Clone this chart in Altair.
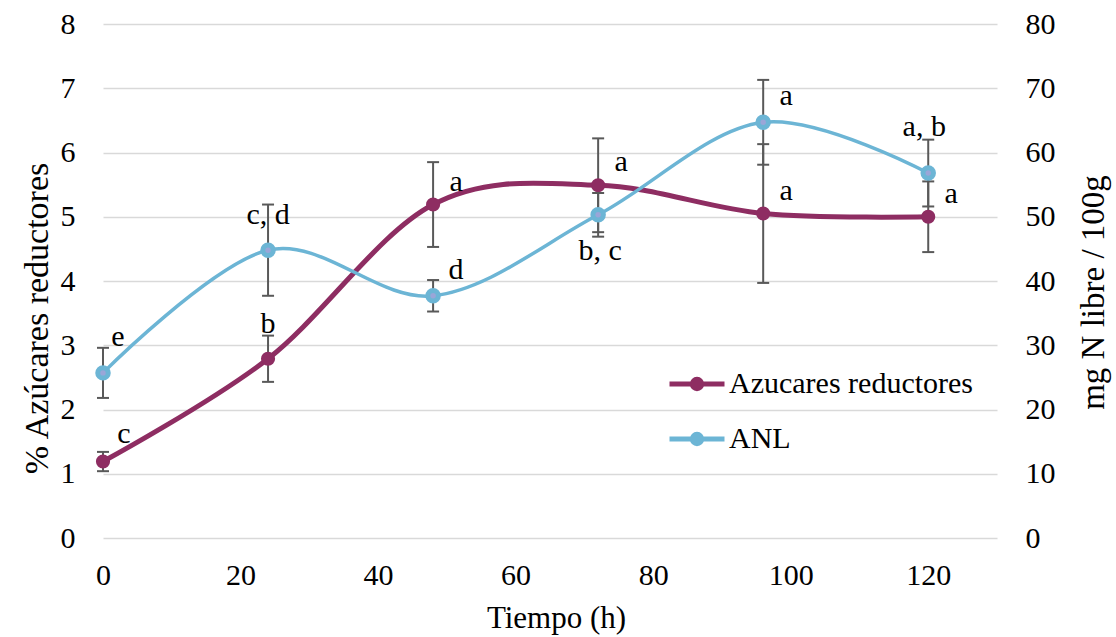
import altair as alt
import pandas as pd

# ---- data ----
tiempo = [0, 24, 48, 72, 96, 120]
azucares = [1.19, 2.79, 5.19, 5.49, 5.05, 5.00]
azucares_err = [0.15, 0.36, 0.66, 0.73, 1.08, 0.55]
anl = [25.7, 44.8, 37.7, 50.3, 64.7, 56.8]
anl_err = [3.9, 7.1, 2.45, 3.4, 6.6, 5.2]
azucares_letras = ["c", "b", "a", "a", "a", "a"]
anl_letras = ["e", "c, d", "d", "b, c", "a", "a, b"]
azucares_pos = ["arriba-der", "arriba", "der", "der", "der", "der"]
anl_pos = ["arriba-der", "arriba", "der", "abajo", "der", "alto"]
series = ["Azucares reductores", "ANL"]
x_ticks = [0, 20, 40, 60, 80, 100, 120]
left_ticks = [0, 1, 2, 3, 4, 5, 6, 7, 8]
right_ticks = [0, 10, 20, 30, 40, 50, 60, 70, 80]

FONT = "Liberation Serif"
FS = 30
MAROON = "#8e2d62"
BLUE = "#6cb5d5"
LAV = "#9aa6d8"
ERR = "#595959"

# label offsets (px) per placement, for each series
azu_off = {"arriba-der": (21, -19), "arriba": (0, -26), "der": (23, -14)}
anl_off = {"arriba-der": (15, -27), "arriba": (0, -26), "der": (23, -17),
           "abajo": (2, 45), "alto": (-4, -37)}


def frame(vals, errs, letras, pos, serie):
    return pd.DataFrame({
        "t": tiempo,
        "v": vals,
        "lo": [v - e for v, e in zip(vals, errs)],
        "hi": [v + e for v, e in zip(vals, errs)],
        "lab": letras,
        "pos": pos,
        "serie": serie,
    })


df_azu = frame(azucares, azucares_err, azucares_letras, azucares_pos, series[0])
df_anl = frame(anl, anl_err, anl_letras, anl_pos, series[1])

font_kw = dict(labelFont=FONT, labelFontSize=FS, labelColor="black",
               titleFont=FONT, titleColor="black", titleFontWeight="normal")

X = alt.X(
    "t:Q",
    scale=alt.Scale(domain=[0, 130], nice=False),
    axis=alt.Axis(
        values=x_ticks, grid=False, domain=False, ticks=False,
        labelPadding=22, labelFlush=False, labelOverlap=False,
        title="Tiempo (h)", titleX=453, titleY=89.5, titleFontSize=31,
        titleBaseline="alphabetic", titleAlign="center", **font_kw,
    ),
)

legend = alt.Legend(
    orient="none", legendX=564, legendY=330, title=None,
    symbolType="M-1,0L1,0M-0.17,0A0.17,0.17,0,1,0,0.17,0A0.17,0.17,0,1,0,-0.17,0Z",
    symbolSize=3025, symbolStrokeWidth=5, labelOffset=2, rowPadding=10,
    labelFont=FONT, labelFontSize=FS, labelColor="black", labelLimit=600,
    padding=0,
)
color = alt.Color("serie:N", scale=alt.Scale(domain=series, range=[MAROON, BLUE]), legend=legend)


def build(df, domain, ticks, orient, title, title_x, title_y, title_fs, grid, lw, point, offs):
    def Y(field):
        return alt.Y(
            f"{field}:Q",
            scale=alt.Scale(domain=domain, nice=False, zero=True),
            axis=alt.Axis(
                values=ticks, orient=orient, grid=grid, gridColor="#d9d9d9",
                gridWidth=1.5, domain=False, ticks=False, labelPadding=28,
                title=title, titleAngle=270, titleX=title_x, titleY=title_y,
                titleFontSize=title_fs,
                titleAlign="center", titleBaseline="alphabetic", **font_kw,
            ),
        )

    base = alt.Chart(df)
    rule = base.mark_rule(color=ERR, strokeWidth=2).encode(x=X, y=Y("lo"), y2="hi:Q")
    cap_lo = base.mark_tick(orient="horizontal", size=12, thickness=2, color=ERR, opacity=1).encode(x=X, y=Y("lo"))
    cap_hi = base.mark_tick(orient="horizontal", size=12, thickness=2, color=ERR, opacity=1).encode(x=X, y=Y("hi"))
    line = base.mark_line(interpolate="cardinal", strokeWidth=lw).encode(x=X, y=Y("v"), color=color)
    pts = base.mark_point(**point).encode(x=X, y=Y("v"))
    texts = []
    for p, (dx, dy) in offs.items():
        texts.append(
            base.transform_filter(alt.datum.pos == p)
            .mark_text(font=FONT, fontSize=FS, color="black", align="center",
                       baseline="alphabetic", dx=dx, dy=dy)
            .encode(x=X, y=Y("v"), text="lab:N")
        )
    return alt.layer(rule, cap_lo, cap_hi, line, pts, *texts)


left = build(df_azu, [0, 8], left_ticks, "left", "% Azúcares reductores", -56, 294, 34, True, 5,
             dict(filled=True, size=200, color=MAROON, opacity=1), azu_off)
right = build(df_anl, [0, 80], right_ticks, "right", "mg N libre / 100g", 106, 268, 33, False, 3.5,
              dict(filled=True, size=110, fill=LAV, stroke=BLUE, strokeWidth=5, opacity=1), anl_off)

chart = (
    alt.layer(left, right)
    .resolve_scale(y="independent")
    .properties(
        width=894, height=514,
        autosize=alt.AutoSizeParams(type="none"),
        padding={"left": 103, "top": 24, "right": 119, "bottom": 99},
        background="white",
    )
    .configure_view(stroke=None)
    .configure_axis(**font_kw)
    .configure_legend(labelFont=FONT, labelFontSize=FS, labelColor="black")
)

chart.save("out.html", embed_options={"renderer": "svg", "actions": False})
